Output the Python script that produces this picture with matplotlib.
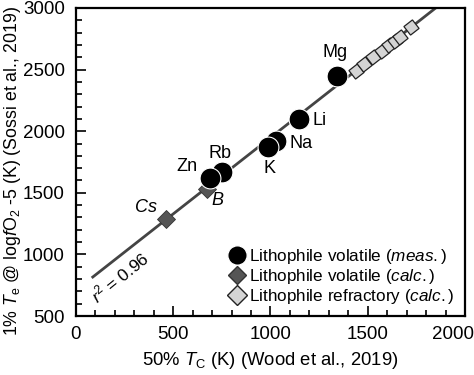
import matplotlib
matplotlib.use("Agg")
import matplotlib.pyplot as plt
from matplotlib.ticker import MultipleLocator

plt.rcParams["font.family"] = ["Liberation Sans", "DejaVu Sans"]
plt.rcParams["mathtext.fontset"] = "custom"
plt.rcParams["mathtext.rm"] = "Liberation Sans"
plt.rcParams["mathtext.it"] = "Liberation Sans:italic"

# measured lithophile volatiles
meas_names = ["Mg", "Li", "Na", "K", "Rb", "Zn"]
meas_x = [1340, 1145, 1030, 990, 750, 690]
meas_y = [2450, 2100, 1920, 1870, 1670, 1620]
meas_lab_x = [1332, 1254, 1160, 997, 740, 569]
meas_lab_y = [2635, 2085, 1902, 1699, 1821, 1712]

# calculated lithophile volatiles
calc_names = ["Cs", "B"]
calc_x = [465, 672]
calc_y = [1285, 1530]
calc_lab_x = [363, 726]
calc_lab_y = [1383, 1436]

# calculated refractory
refr_x = [1440, 1481, 1529, 1572, 1611, 1640, 1666, 1721]
refr_y = [2491, 2545, 2600, 2653, 2700, 2735, 2767, 2848]

# regression line
fit_x = [87, 1850]
fit_y = [817, 3000]

x_ticks = [0, 500, 1000, 1500, 2000]
x_ticklabels = ["0", "500", "1000", "1500", ""]

fig = plt.figure(figsize=(4.74, 3.75), dpi=100)
ax = fig.add_axes([0.160, 0.157, 0.821, 0.822])

ax.plot(fit_x, fit_y, color="#444444", lw=2, zorder=1)

ax.plot(refr_x, refr_y, ls="none", marker=(4, 0, -7), ms=11,
        mfc="#d4d4d4", mec="#222222", mew=0.9, zorder=2)
ax.plot(calc_x, calc_y, ls="none", marker="D", ms=9,
        mfc="#555555", mec="#333333", mew=0.6, zorder=2)
ax.plot(meas_x, meas_y, ls="none", marker="o", ms=15,
        mfc="black", mec="white", mew=0.8, zorder=3)

for n, x, y in zip(meas_names, meas_lab_x, meas_lab_y):
    ax.text(x, y, n, fontsize=13, ha="center", va="center")
for n, x, y in zip(calc_names, calc_lab_x, calc_lab_y):
    ax.text(x, y, n, fontsize=13, ha="center", va="center", style="italic")

ax.text(226, 817, "$r^2$ = 0.96", fontsize=12.5, rotation=39,
        ha="center", va="center", rotation_mode="anchor")

# legend handles
ax.plot([], [], ls="none", marker="o", ms=14, mfc="black", mec="white",
        label=r"Lithophile volatile ($\mathit{meas.}$)")
ax.plot([], [], ls="none", marker="D", ms=9, mfc="#555555", mec="#333333",
        label=r"Lithophile volatile ($\mathit{calc.}$)")
ax.plot([], [], ls="none", marker="D", ms=10, mfc="#d4d4d4", mec="#222222",
        label=r"Lithophile refractory ($\mathit{calc.}$)")
h, l = ax.get_legend_handles_labels()
ax.legend(h, l, loc="lower right", frameon=False, fontsize=12.3,
          handletextpad=0.1, borderaxespad=0.2, labelspacing=0.05,
          handlelength=1.2)

ax.set_xlim(0, 2000)
ax.set_ylim(500, 3000)
ax.set_xticks(x_ticks, x_ticklabels)
ax.xaxis.set_minor_locator(MultipleLocator(100))
ax.yaxis.set_major_locator(MultipleLocator(500))
ax.yaxis.set_minor_locator(MultipleLocator(100))
ax.tick_params(which="both", direction="in", labelsize=13.5, width=1.2)
ax.tick_params(which="major", length=7)
ax.tick_params(which="minor", length=4)
ax.tick_params(axis="x", pad=7)
ax.tick_params(axis="y", pad=8)
for s in ax.spines.values():
    s.set_linewidth(1.6)

# last x tick label, nudged left so it stays inside the figure
ax.annotate("2000", xy=(x_ticks[-1], 500), xytext=(-12, -10),
            textcoords="offset pixels", ha="center", va="top",
            fontsize=13.5, annotation_clip=False)

ax.set_xlabel("50% $T_\\mathrm{C}$ (K) (Wood et al., 2019)", fontsize=13.3, labelpad=5)
ax.set_ylabel("1% $T_\\mathrm{e}$ @ log$f$O$_2$ -5 (K) (Sossi et al., 2019)",
              fontsize=12.8)
ax.yaxis.set_label_coords(-0.136, 0.47)

fig.savefig("out.png", dpi=100)
